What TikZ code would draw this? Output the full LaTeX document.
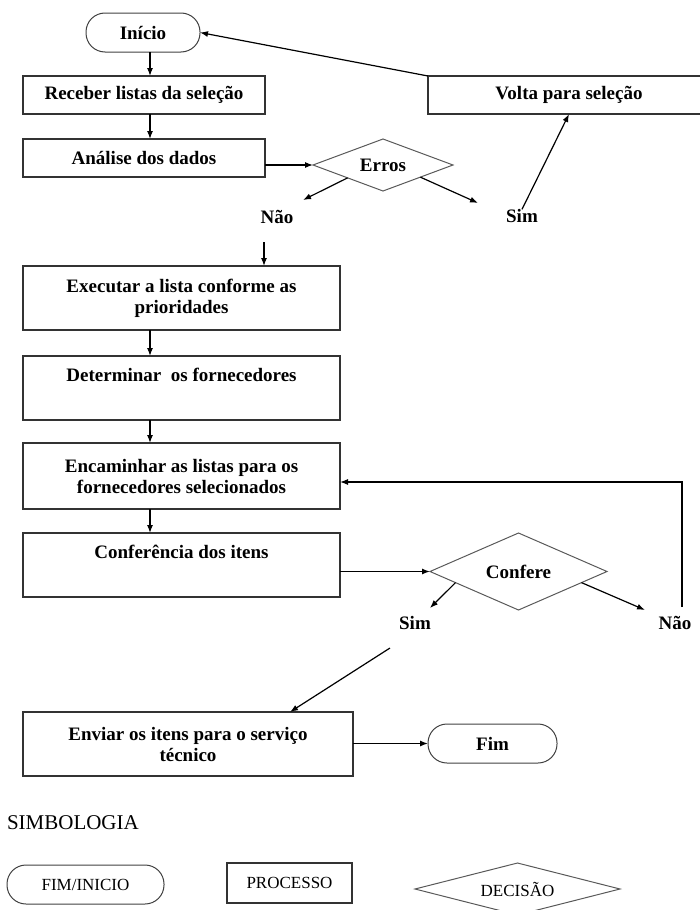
\documentclass[tikz,border=0pt]{standalone}
\usepackage{fontspec}
\setmainfont{Liberation Serif}
\usetikzlibrary{shapes.geometric,arrows.meta}

\begin{document}
\begin{tikzpicture}[x=1pt,y=-1pt,>={Latex[length=8pt,width=6pt]},
            every node/.style={font=\bfseries\fontsize{19}{21}\selectfont, inner sep=0pt, outer sep=0pt},
            caixa/.style={draw=black!80, line width=1.3pt, align=center},
            terminal/.style={draw=black!75, line width=1pt, rounded corners=19pt},
            decisao/.style={draw=black!65, line width=1pt, diamond, aspect=2.5},
            seta/.style={->, line width=1.2pt},
            legenda/.style={font=\fontsize{17}{20}\selectfont}]
            \useasboundingbox (0,0) rectangle (699,910);
            \coordinate (eixo) at (150,0);
            % fluxo principal
            \node[terminal, minimum width=114pt, minimum height=39pt] (inicio) at (143,32.5) {Início};
            \node[caixa, minimum width=242pt, minimum height=38pt] (receber) at (144,95) {Receber listas da seleção};
            \node[caixa, minimum width=282pt, minimum height=38pt] (volta) at (569,95) {Volta para seleção};
            \node[caixa, minimum width=242pt, minimum height=38pt] (analise) at (144,158) {Análise dos dados};
            \node[decisao, minimum width=140pt, minimum height=52pt] (erros) at (383,165) {Erros};
            \node (naoA) at (277,217) {Não};
            \node (simA) at (522,216) {Sim};
            \coordinate (naoPonta) at (303,200);
            \coordinate (simPonta) at (478,203);
            \coordinate (naoSeta) at (264,242);
            \node[caixa, minimum width=317pt, minimum height=64pt] (executar) at (181.5,298) {Executar a lista conforme as\\prioridades};
            \node[caixa, minimum width=317pt, minimum height=64pt] (determinar) at (181.5,388) {Determinar\ \ os fornecedores\\\strut};
            \node[caixa, minimum width=317pt, minimum height=66pt] (encaminhar) at (181.5,476) {Encaminhar as listas para os\\fornecedores selecionados};
            \node[caixa, minimum width=317pt, minimum height=64pt] (conferencia) at (181.5,565) {Conferência dos itens\\\strut};
            \node[decisao, minimum width=177pt, minimum height=77pt] (confere) at (518.5,571.5) {Confere};
            \node (simB) at (415,623) {Sim};
            \node (naoB) at (675,623) {Não};
            \coordinate (simPontaB) at (430,608);
            \coordinate (naoPontaB) at (645,610);
            \coordinate (naoCanto) at (682,607);
            \coordinate (simInicio) at (390,648);
            \node[caixa, minimum width=330pt, minimum height=64pt] (enviar) at (188,744) {Enviar os itens para o serviço\\técnico};
            \node[terminal, minimum width=129pt, minimum height=39pt] (fim) at (492.5,743.5) {Fim};
            % simbologia
            \node[anchor=west, font=\fontsize{21}{24}\selectfont] (simbologia) at (7,823) {SIMBOLOGIA};
            \node[terminal, legenda, minimum width=157pt, minimum height=39pt] (legFim) at (85.5,884.5) {FIM/INICIO};
            \node[caixa, legenda, minimum width=125pt, minimum height=40pt] (legProc) at (289.5,883) {PROCESSO};
            \node[decisao, legenda, minimum width=205pt, minimum height=52pt] (legDec) at (517.5,889) {DECISÃO};
            % setas
            \draw[seta] (inicio.south -| eixo) -- (receber.north -| eixo);
            \draw[seta] (receber.south -| eixo) -- (analise.north -| eixo);
            \draw[seta] (volta.north west) -- (inicio.east);
            \draw[seta] (analise.east |- erros.west) -- (erros.west);
            \draw[seta] (erros.200) -- (naoPonta);
            \draw[seta] (erros.-18) -- (simPonta);
            \draw[seta] (simA.north) -- (volta.south);
            \draw[seta] (naoSeta) -- (naoSeta |- executar.north);
            \draw[seta] (executar.south -| eixo) -- (determinar.north -| eixo);
            \draw[seta] (determinar.south -| eixo) -- (encaminhar.north -| eixo);
            \draw[seta] (encaminhar.south -| eixo) -- (conferencia.north -| eixo);
            \draw[seta] (conferencia.east |- confere.west) -- (confere.west);
            \draw[seta] (confere.190) -- (simPontaB);
            \draw[seta] (confere.-10) -- (naoPontaB);
            \draw[seta] (naoCanto) |- ([yshift=-6pt]encaminhar.east);
            \draw[seta] (simInicio) -- ([xshift=102pt]enviar.north);
            \draw[seta] (enviar.east |- fim.west) -- (fim.west);
\end{tikzpicture}
\end{document}
